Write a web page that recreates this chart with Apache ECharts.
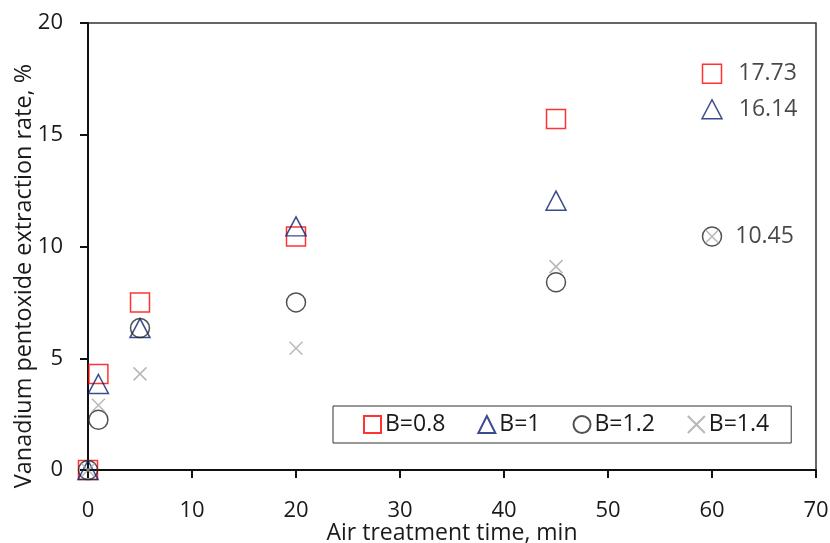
<!DOCTYPE html>
<html>
<head>
<meta charset="utf-8">
<script src="https://cdn.jsdelivr.net/npm/echarts@6/dist/echarts.min.js"></script>
<style>
  html, body { margin: 0; padding: 0; background: #fff; }
  #chart { width: 830px; height: 543px; }
</style>
</head>
<body>
<div id="chart"></div>
<script>
// measured times (min) and extraction rates (%)
var times = [0, 1, 5, 20, 45]
var rateB08 = [0, 4.3, 7.5, 10.45, 15.7]
var rateB10 = [0, 3.85, 6.35, 10.9, 12.05]
var rateB12 = [0, 2.25, 6.35, 7.5, 8.4]
var rateB14 = [0, 2.9, 4.3, 5.45, 9.1]
// limiting values shown at the right
var limitTime = 60
var limitB08 = 17.73
var limitB10 = 16.14
var limitB12 = 10.45
var limitB14 = 10.45

var names = ['B=0.8', 'B=1', 'B=1.2', 'B=1.4']
var font = 'Open Sans'

function pairs (ys) {
  return times.map(function (t, i) { return [t, ys[i]] })
}

function limitPoint (v, showLabel, dist) {
  return {
    value: [limitTime, v],
    label: {
      show: showLabel,
      position: 'right',
      distance: dist,
      formatter: String(v),
      color: '#1a1a1a',
      fontFamily: font,
      fontSize: 23
    }
  }
}

var chart = echarts.init(document.getElementById('chart'))
chart.setOption({
  animation: false,
  grid: {
    left: 88,
    right: 14,
    top: 23,
    bottom: 73,
    outerBoundsMode: 'none',
    show: true,
    borderColor: '#333',
    borderWidth: 1.5
  },
  // y title sits a bit below the middle of the axis, as in the original
  graphic: [{
    type: 'text',
    left: 13,
    top: 64,
    rotation: Math.PI / 2,
    style: {
      text: 'Vanadium pentoxide extraction rate, %',
      font: '23.4px "Open Sans"',
      fill: '#1a1a1a'
    }
  }],
  legend: {
    data: names,
    left: 333,
    top: 406,
    width: 461,
    padding: [7, 22, 7, 30],
    itemGap: 32,
    itemWidth: 17,
    itemHeight: 17,
    borderColor: '#333',
    borderWidth: 1,
    textStyle: { fontFamily: font, fontSize: 23, color: '#1a1a1a', padding: [0, 0, 0, -1] }
  },
  xAxis: {
    type: 'value',
    min: 0,
    max: 70,
    interval: 10,
    name: 'Air treatment time, min',
    nameLocation: 'middle',
    nameGap: 52,
    nameMoveOverlap: false,
    nameTextStyle: { fontFamily: font, fontSize: 23, color: '#1a1a1a' },
    axisLine: { lineStyle: { color: '#111', width: 2 } },
    axisTick: { inside: false, length: 8, lineStyle: { color: '#111', width: 2 } },
    axisLabel: { margin: 30, fontFamily: font, fontSize: 22, color: '#1a1a1a' },
    splitLine: { show: false }
  },
  yAxis: {
    type: 'value',
    min: 0,
    max: 20,
    interval: 5,
    axisLine: { lineStyle: { color: '#111', width: 2 } },
    axisTick: { inside: false, length: 8, lineStyle: { color: '#111', width: 2 } },
    axisLabel: { margin: 25, fontFamily: font, fontSize: 22, color: '#1a1a1a' },
    splitLine: { show: false }
  },
  series: [
    {
      name: names[0],
      type: 'scatter',
      clip: false,
      symbol: 'rect',
      symbolSize: 19,
      itemStyle: { color: 'transparent', borderColor: '#ff0000', borderWidth: 1.5 },
      data: pairs(rateB08).concat([limitPoint(limitB08, true, 16)])
    },
    {
      name: names[1],
      type: 'scatter',
      clip: false,
      symbol: 'triangle',
      symbolSize: [20, 19],
      itemStyle: { color: 'transparent', borderColor: '#0a1f6e', borderWidth: 1.5 },
      data: pairs(rateB10).concat([limitPoint(limitB10, true, 16)])
    },
    {
      name: names[2],
      type: 'scatter',
      clip: false,
      symbol: 'circle',
      symbolSize: 19,
      itemStyle: { color: 'transparent', borderColor: '#262626', borderWidth: 1.5 },
      data: pairs(rateB12).concat([limitPoint(limitB12, true, 13)])
    },
    {
      name: names[3],
      type: 'scatter',
      clip: false,
      symbol: 'path://M0,0L10,10M10,0L0,10',
      symbolSize: 13,
      itemStyle: { color: 'transparent', borderColor: '#a6a6a6', borderWidth: 1.5 },
      data: pairs(rateB14).concat([limitPoint(limitB14, false, 13)])
    }
  ]
})
</script>
</body>
</html>
